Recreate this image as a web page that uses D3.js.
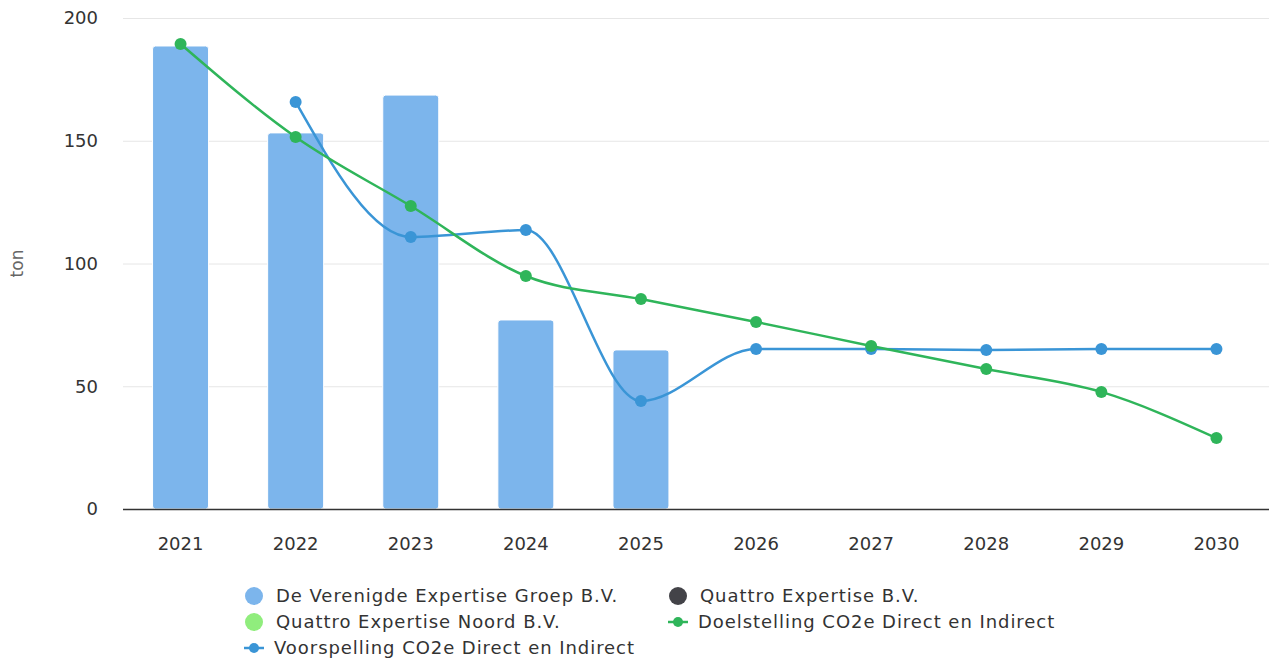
<!DOCTYPE html>
<html>
<head>
<meta charset="utf-8">
<script src="https://cdn.jsdelivr.net/npm/d3@7"></script>
<style>
  body { margin: 0; background: #fff; }
  svg { display: block; font-family: "DejaVu Sans", Verdana, sans-serif; }
</style>
</head>
<body>
<div id="chart"></div>
<script>
const years = ['2021', '2022', '2023', '2024', '2025', '2026', '2027', '2028', '2029', '2030'];
const yTicks = [0, 50, 100, 150, 200];

// stacked columns
const verenigde = [188.6, 153.2, 168.6, 77.0, 64.8, null, null, null, null, null];
const quattro = [0, 0, 0, 0, 0, null, null, null, null, null];
const quattroNoord = [0, 0, 0, 0, 0, null, null, null, null, null];

// lines
const doelstelling = [189.4, 151.5, 123.4, 94.9, 85.5, 76.2, 66.4, 57.0, 47.7, 28.9];
const voorspelling = [null, 165.8, 110.8, 113.6, 44.0, 65.2, 65.2, 64.8, 65.2, 65.2];

const width = 1269, height = 664;
const margin = { top: 18, right: -5, bottom: 155, left: 123 };

const svg = d3.select('#chart').append('svg')
    .attr('width', width)
    .attr('height', height);

const x = d3.scaleBand()
    .domain(years)
    .range([margin.left, width - margin.right]);

const y = d3.scaleLinear()
    .domain([0, 200])
    .range([height - margin.bottom, margin.top]);

// grid
svg.append('g')
    .selectAll('line')
    .data(yTicks.filter(d => d > 0))
    .join('line')
    .attr('x1', margin.left)
    .attr('x2', width)
    .attr('y1', d => y(d) + 0.5)
    .attr('y2', d => y(d) + 0.5)
    .attr('stroke', '#e6e6e6');

// y labels
svg.append('g')
    .selectAll('text')
    .data(yTicks)
    .join('text')
    .attr('x', 98)
    .attr('y', d => y(d))
    .attr('dy', '0.35em')
    .attr('text-anchor', 'end')
    .attr('font-size', 18)
    .attr('fill', '#333')
    .text(d => d);

svg.append('text')
    .attr('transform', `translate(23,${y(100)}) rotate(-90)`)
    .attr('text-anchor', 'middle')
    .attr('font-size', 17)
    .attr('fill', '#666')
    .text('ton');

// stacked bars
const barSeries = [
    { name: 'De Verenigde Expertise Groep B.V.', values: verenigde, color: '#7cb5ec' },
    { name: 'Quattro Expertise B.V.', values: quattro, color: '#434348' },
    { name: 'Quattro Expertise Noord B.V.', values: quattroNoord, color: '#90ed7d' }
];

const barW = 56;
const stackRows = years.map((yr, i) => {
    const row = { year: yr };
    barSeries.forEach(s => row[s.name] = s.values[i] || 0);
    return row;
});
// first series sits on top, so stack in reverse
const stack = d3.stack().keys(barSeries.map(s => s.name).reverse())(stackRows);

svg.append('g')
    .selectAll('g')
    .data(stack)
    .join('g')
    .attr('fill', d => barSeries.find(s => s.name === d.key).color)
    .selectAll('rect')
    .data(d => d.filter(p => p[1] - p[0] > 0))
    .join('rect')
    .attr('x', d => x(d.data.year) + x.bandwidth() / 2 - barW / 2)
    .attr('y', d => y(d[1]))
    .attr('width', barW)
    .attr('height', d => y(d[0]) - y(d[1]))
    .attr('rx', 3)
    .attr('stroke', '#fff')
    .attr('stroke-width', 1);

// x axis line
svg.append('line')
    .attr('x1', margin.left)
    .attr('x2', width)
    .attr('y1', y(0) + 0.5)
    .attr('y2', y(0) + 0.5)
    .attr('stroke', '#333')
    .attr('stroke-width', 1.5);

svg.append('g')
    .selectAll('text')
    .data(years)
    .join('text')
    .attr('x', d => x(d) + x.bandwidth() / 2)
    .attr('y', 550)
    .attr('text-anchor', 'middle')
    .attr('font-size', 18)
    .attr('fill', '#333')
    .text(d => d);

// lines
const lineSeries = [
    { name: 'Doelstelling CO2e Direct en Indirect', values: doelstelling, color: '#2fb55a' },
    { name: 'Voorspelling CO2e Direct en Indirect', values: voorspelling, color: '#3a95d6' }
];

const line = d3.line()
    .defined(d => d.v != null)
    .x(d => x(d.year) + x.bandwidth() / 2)
    .y(d => y(d.v))
    .curve(d3.curveMonotoneX);

lineSeries.slice().reverse().forEach(s => {
    const pts = years.map((yr, i) => ({ year: yr, v: s.values[i] }));
    const g = svg.append('g');
    g.append('path')
        .attr('d', line(pts))
        .attr('fill', 'none')
        .attr('stroke', s.color)
        .attr('stroke-width', 2.5);
    g.selectAll('circle')
        .data(pts.filter(p => p.v != null))
        .join('circle')
        .attr('cx', d => x(d.year) + x.bandwidth() / 2)
        .attr('cy', d => y(d.v))
        .attr('r', 6)
        .attr('fill', s.color);
});

// legend
const legendItems = [
    { name: barSeries[0].name, color: barSeries[0].color, type: 'dot', col: 0, row: 0 },
    { name: barSeries[1].name, color: barSeries[1].color, type: 'dot', col: 1, row: 0 },
    { name: barSeries[2].name, color: barSeries[2].color, type: 'dot', col: 0, row: 1 },
    { name: lineSeries[0].name, color: lineSeries[0].color, type: 'line', col: 1, row: 1 },
    { name: lineSeries[1].name, color: lineSeries[1].color, type: 'line', col: 0, row: 2 }
];
const colX = [254, 678];
const rowY = [596, 622, 648];

const legend = svg.append('g')
    .selectAll('g')
    .data(legendItems)
    .join('g')
    .attr('transform', d => `translate(${colX[d.col]},${rowY[d.row]})`);

legend.filter(d => d.type === 'dot')
    .append('circle')
    .attr('r', 9)
    .attr('fill', d => d.color);

legend.filter(d => d.type === 'line')
    .append('line')
    .attr('x1', -10)
    .attr('x2', 10)
    .attr('stroke', d => d.color)
    .attr('stroke-width', 2.5);

legend.filter(d => d.type === 'line')
    .append('circle')
    .attr('r', 5)
    .attr('fill', d => d.color);

legend.append('text')
    .attr('x', d => d.type === 'dot' ? 22 : 20)
    .attr('dy', '0.35em')
    .attr('font-size', 18)
    .attr('letter-spacing', 0.95)
    .attr('fill', '#333')
    .text(d => d.name);
</script>
</body>
</html>
